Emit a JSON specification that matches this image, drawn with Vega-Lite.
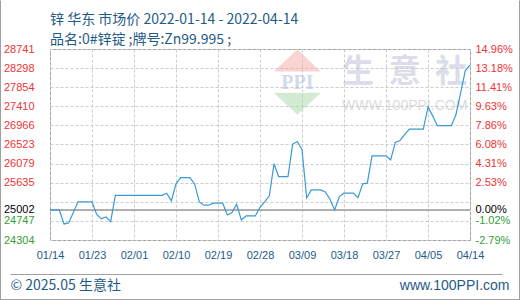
{
  "$schema": "https://vega.github.io/schema/vega-lite/v6.json",
  "width": 420,
  "height": 191,
  "autosize": "none",
  "padding": {"left": 50, "top": 49, "right": 50, "bottom": 60},
  "background": "white",
  "config": {
    "view": {"stroke": "#999999", "strokeWidth": 1},
    "font": "Liberation Sans"
  },
  "title": {
    "text": ["锌 华东 市场价 2022-01-14 - 2022-04-14", "品名:0#锌锭 ;牌号:Zn99.995 ;"],
    "anchor": "start",
    "frame": "group",
    "font": "Noto Sans CJK SC",
    "fontSize": 14,
    "fontWeight": "normal",
    "color": "#1f5b87",
    "lineHeight": 20,
    "offset": -50
  },
  "datasets": {
    "zinc": [
      {"date": "2022-01-14", "value": 25002},
      {"date": "2022-01-16", "value": 25002},
      {"date": "2022-01-17", "value": 24677},
      {"date": "2022-01-18", "value": 24700},
      {"date": "2022-01-20", "value": 25190},
      {"date": "2022-01-23", "value": 25190},
      {"date": "2022-01-24", "value": 24900},
      {"date": "2022-01-25", "value": 24795},
      {"date": "2022-01-26", "value": 24840},
      {"date": "2022-01-27", "value": 24730},
      {"date": "2022-01-28", "value": 25340},
      {"date": "2022-02-07", "value": 25340},
      {"date": "2022-02-08", "value": 25392},
      {"date": "2022-02-09", "value": 25212},
      {"date": "2022-02-10", "value": 25608},
      {"date": "2022-02-11", "value": 25755},
      {"date": "2022-02-13", "value": 25755},
      {"date": "2022-02-14", "value": 25601},
      {"date": "2022-02-15", "value": 25189},
      {"date": "2022-02-16", "value": 25112},
      {"date": "2022-02-17", "value": 25112},
      {"date": "2022-02-18", "value": 25159},
      {"date": "2022-02-20", "value": 25159},
      {"date": "2022-02-21", "value": 24886},
      {"date": "2022-02-22", "value": 24944},
      {"date": "2022-02-23", "value": 25135},
      {"date": "2022-02-24", "value": 24770},
      {"date": "2022-02-25", "value": 24863},
      {"date": "2022-02-27", "value": 24863},
      {"date": "2022-02-28", "value": 25061},
      {"date": "2022-03-01", "value": 25189},
      {"date": "2022-03-02", "value": 25329},
      {"date": "2022-03-03", "value": 26074},
      {"date": "2022-03-04", "value": 25778},
      {"date": "2022-03-06", "value": 25778},
      {"date": "2022-03-07", "value": 26533},
      {"date": "2022-03-08", "value": 26593},
      {"date": "2022-03-09", "value": 26400},
      {"date": "2022-03-10", "value": 25282},
      {"date": "2022-03-11", "value": 25469},
      {"date": "2022-03-13", "value": 25469},
      {"date": "2022-03-14", "value": 25421},
      {"date": "2022-03-15", "value": 25252},
      {"date": "2022-03-16", "value": 25003},
      {"date": "2022-03-17", "value": 25312},
      {"date": "2022-03-18", "value": 25392},
      {"date": "2022-03-20", "value": 25392},
      {"date": "2022-03-21", "value": 25289},
      {"date": "2022-03-22", "value": 25608},
      {"date": "2022-03-23", "value": 25624},
      {"date": "2022-03-24", "value": 26260},
      {"date": "2022-03-27", "value": 26260},
      {"date": "2022-03-28", "value": 26167},
      {"date": "2022-03-29", "value": 26570},
      {"date": "2022-03-30", "value": 26617},
      {"date": "2022-03-31", "value": 26750},
      {"date": "2022-04-01", "value": 26882},
      {"date": "2022-04-04", "value": 26882},
      {"date": "2022-04-05", "value": 27395},
      {"date": "2022-04-06", "value": 27188},
      {"date": "2022-04-07", "value": 26959},
      {"date": "2022-04-10", "value": 26959},
      {"date": "2022-04-11", "value": 27218},
      {"date": "2022-04-12", "value": 27728},
      {"date": "2022-04-13", "value": 28240},
      {"date": "2022-04-14", "value": 28368}
    ],
    "baseline": [{"value": 25002}],
    "logoTop": [{"date": "2022-03-08", "value": 28473}],
    "logoBottom": [{"date": "2022-03-08", "value": 27471}],
    "logoText": [{"date": "2022-03-08", "value": 27949, "text": "PPI"}],
    "brand": [
      {"date": "2022-03-21", "value": 28217, "text": "生"},
      {"date": "2022-03-31", "value": 28217, "text": "意"},
      {"date": "2022-04-10", "value": 28217, "text": "社"}
    ],
    "site": [{"date": "2022-03-31", "value": 27425, "text": "WWW.100PPI.COM"}],
    "frame": [{"date": "2022-01-14", "value": 24304}, {"date": "2022-04-14", "value": 28741.4}]
  },
  "resolve": {"scale": {"x": "independent", "y": "independent"}},
  "layer": [
    {
      "data": {"name": "logoTop"},
      "mark": {"type": "point", "shape": "M-1,0.47L0,-0.47L1,0.47Z", "size": 2209, "filled": true, "fill": "#f3aaa5", "opacity": 0.5, "strokeWidth": 0},
      "encoding": {
        "x": {"field": "date", "type": "temporal", "scale": {"type": "utc", "domain": [{"year": 2022, "month": 1, "date": 14, "utc": true}, {"year": 2022, "month": 4, "date": 14, "utc": true}]}, "axis": null},
        "y": {"field": "value", "type": "quantitative", "scale": {"domain": [24304, 28741.4], "zero": false, "nice": false}, "axis": null}
      }
    },
    {
      "data": {"name": "logoBottom"},
      "mark": {"type": "point", "shape": "M-1,-0.47L1,-0.47L0,0.47Z", "size": 2209, "filled": true, "fill": "#a8d8a8", "opacity": 0.5, "strokeWidth": 0},
      "encoding": {
        "x": {"field": "date", "type": "temporal", "scale": {"type": "utc", "domain": [{"year": 2022, "month": 1, "date": 14, "utc": true}, {"year": 2022, "month": 4, "date": 14, "utc": true}]}, "axis": null},
        "y": {"field": "value", "type": "quantitative", "scale": {"domain": [24304, 28741.4], "zero": false, "nice": false}, "axis": null}
      }
    },
    {
      "data": {"name": "logoText"},
      "mark": {"type": "text", "font": "Liberation Serif", "fontSize": 20, "fontWeight": "bold", "color": "#8fa5cc", "opacity": 0.4, "baseline": "middle", "align": "center"},
      "encoding": {
        "x": {"field": "date", "type": "temporal", "scale": {"type": "utc", "domain": [{"year": 2022, "month": 1, "date": 14, "utc": true}, {"year": 2022, "month": 4, "date": 14, "utc": true}]}, "axis": null},
        "y": {"field": "value", "type": "quantitative", "scale": {"domain": [24304, 28741.4], "zero": false, "nice": false}, "axis": null},
        "text": {"field": "text"}
      }
    },
    {
      "data": {"name": "brand"},
      "mark": {"type": "text", "font": "Noto Sans CJK SC", "fontSize": 32, "fontWeight": "bold", "color": "#b8bfd6", "opacity": 0.5, "baseline": "middle", "align": "center"},
      "encoding": {
        "x": {"field": "date", "type": "temporal", "scale": {"type": "utc", "domain": [{"year": 2022, "month": 1, "date": 14, "utc": true}, {"year": 2022, "month": 4, "date": 14, "utc": true}]}, "axis": null},
        "y": {"field": "value", "type": "quantitative", "scale": {"domain": [24304, 28741.4], "zero": false, "nice": false}, "axis": null},
        "text": {"field": "text"}
      }
    },
    {
      "data": {"name": "site"},
      "mark": {"type": "text", "font": "Liberation Sans", "fontSize": 14, "color": "#c4c4c4", "opacity": 0.6, "baseline": "middle", "align": "center"},
      "encoding": {
        "x": {"field": "date", "type": "temporal", "scale": {"type": "utc", "domain": [{"year": 2022, "month": 1, "date": 14, "utc": true}, {"year": 2022, "month": 4, "date": 14, "utc": true}]}, "axis": null},
        "y": {"field": "value", "type": "quantitative", "scale": {"domain": [24304, 28741.4], "zero": false, "nice": false}, "axis": null},
        "text": {"field": "text"}
      }
    },
    {
      "data": {"name": "baseline"},
      "mark": {"type": "rule", "color": "#9a9a9a", "strokeWidth": 1.5},
      "encoding": {
        "y": {
          "field": "value", "type": "quantitative",
          "scale": {"domain": [24304, 28741.4], "zero": false, "nice": false},
          "axis": {
            "orient": "right",
            "values": [24304, 24747, 25002, 25635, 26079, 26523, 26966, 27410, 27854, 28298, 28741.4],
            "labelExpr": "replace(format(datum.value / 25002 - 1, '.2%'), '\u2212', '-')",
            "labelColor": {"condition": [{"test": "datum.value > 25002", "value": "#ee3333"}, {"test": "datum.value < 25002", "value": "#33a033"}], "value": "#000000"},
            "labelFont": "Liberation Sans",
            "labelFontSize": 11,
            "labelPadding": 5,
            "labelBound": false,
            "labelOverlap": false,
            "grid": false,
            "ticks": false,
            "domain": false,
            "title": null
          }
        }
      }
    },
    {
      "data": {"name": "zinc"},
      "mark": {"type": "line", "color": "#3b9ad8", "strokeWidth": 1.2},
      "encoding": {
        "x": {
          "field": "date", "type": "temporal",
          "scale": {"type": "utc", "domain": [{"year": 2022, "month": 1, "date": 14, "utc": true}, {"year": 2022, "month": 4, "date": 14, "utc": true}]},
          "axis": {
            "orient": "bottom",
            "values": [
              {"year": 2022, "month": 1, "date": 14, "utc": true},
              {"year": 2022, "month": 1, "date": 23, "utc": true},
              {"year": 2022, "month": 2, "date": 1, "utc": true},
              {"year": 2022, "month": 2, "date": 10, "utc": true},
              {"year": 2022, "month": 2, "date": 19, "utc": true},
              {"year": 2022, "month": 2, "date": 28, "utc": true},
              {"year": 2022, "month": 3, "date": 9, "utc": true},
              {"year": 2022, "month": 3, "date": 18, "utc": true},
              {"year": 2022, "month": 3, "date": 27, "utc": true},
              {"year": 2022, "month": 4, "date": 5, "utc": true},
              {"year": 2022, "month": 4, "date": 14, "utc": true}
            ],
            "labelExpr": "utcFormat(datum.value, '%m/%d')",
            "grid": true,
            "gridColor": "#cccccc",
            "gridDash": [3, 2],
            "ticks": false,
            "domain": false,
            "labelColor": "#1f5b87",
            "labelFont": "Liberation Sans",
            "labelFontSize": 11,
            "labelPadding": 9,
            "labelOverlap": false,
            "labelFlush": false,
            "labelBound": false,
            "title": "© 2025.05 生意社",
            "titleX": -40,
            "titleY": 45,
            "titleAlign": "left",
            "titleBaseline": "middle",
            "titleFont": "Noto Sans CJK SC",
            "titleFontSize": 14,
            "titleFontWeight": "normal",
            "titleColor": "#1f5b87"
          }
        },
        "y": {
          "field": "value", "type": "quantitative",
          "scale": {"domain": [24304, 28741.4], "zero": false, "nice": false},
          "axis": {
            "orient": "left",
            "values": [24304, 24747, 25002, 25191, 25635, 26079, 26523, 26966, 27410, 27854, 28298, 28741.4],
            "labelExpr": "datum.value == 25191 ? '' : format(datum.value, 'd')",
            "labelColor": {"condition": [{"test": "datum.value > 25002", "value": "#ee3333"}, {"test": "datum.value < 25002", "value": "#33a033"}], "value": "#000000"},
            "labelFont": "Liberation Sans",
            "labelFontSize": 11,
            "labelPadding": 16,
            "labelBound": false,
            "labelOverlap": false,
            "grid": true,
            "gridColor": "#cccccc",
            "gridDash": [3, 2],
            "ticks": false,
            "domain": false,
            "title": null
          }
        }
      }
    },
    {
      "data": {"name": "frame"},
      "mark": {"type": "point", "opacity": 0},
      "encoding": {
        "x": {
          "field": "date", "type": "temporal",
          "scale": {"type": "utc", "domain": [{"year": 2022, "month": 1, "date": 14, "utc": true}, {"year": 2022, "month": 4, "date": 14, "utc": true}], "range": [-40, 452]},
          "axis": {
            "orient": "bottom",
            "offset": 34,
            "labels": false,
            "ticks": false,
            "grid": false,
            "domain": true,
            "domainColor": "#a0a0a0",
            "domainWidth": 1,
            "title": "www.100PPI.com",
            "titleX": 459,
            "titleY": 11,
            "titleAlign": "right",
            "titleBaseline": "middle",
            "titleFont": "Liberation Sans",
            "titleFontSize": 14,
            "titleFontWeight": "normal",
            "titleColor": "#1f5b87"
          }
        },
        "y": {
          "field": "value", "type": "quantitative",
          "scale": {"domain": [24304, 28741.4], "zero": false, "nice": false, "range": [251, -49]},
          "axis": {
            "orient": "left",
            "offset": 50,
            "labels": false,
            "ticks": false,
            "grid": false,
            "domain": true,
            "domainColor": "#a0a0a0",
            "domainWidth": 1,
            "title": null
          }
        }
      }
    },
    {
      "data": {"name": "frame"},
      "mark": {"type": "point", "opacity": 0},
      "encoding": {
        "x": {
          "field": "date", "type": "temporal",
          "scale": {"type": "utc", "domain": [{"year": 2022, "month": 1, "date": 14, "utc": true}, {"year": 2022, "month": 4, "date": 14, "utc": true}], "range": [-50, 470]},
          "axis": {
            "orient": "bottom",
            "offset": 59,
            "labels": false,
            "ticks": false,
            "grid": false,
            "domain": true,
            "domainColor": "#a0a0a0",
            "domainWidth": 1,
            "title": null
          }
        },
        "y": {
          "field": "value", "type": "quantitative",
          "scale": {"domain": [24304, 28741.4], "zero": false, "nice": false, "range": [251, -49]},
          "axis": {
            "orient": "right",
            "offset": 49,
            "labels": false,
            "ticks": false,
            "grid": false,
            "domain": true,
            "domainColor": "#a0a0a0",
            "domainWidth": 1,
            "title": null
          }
        }
      }
    }
  ]
}
